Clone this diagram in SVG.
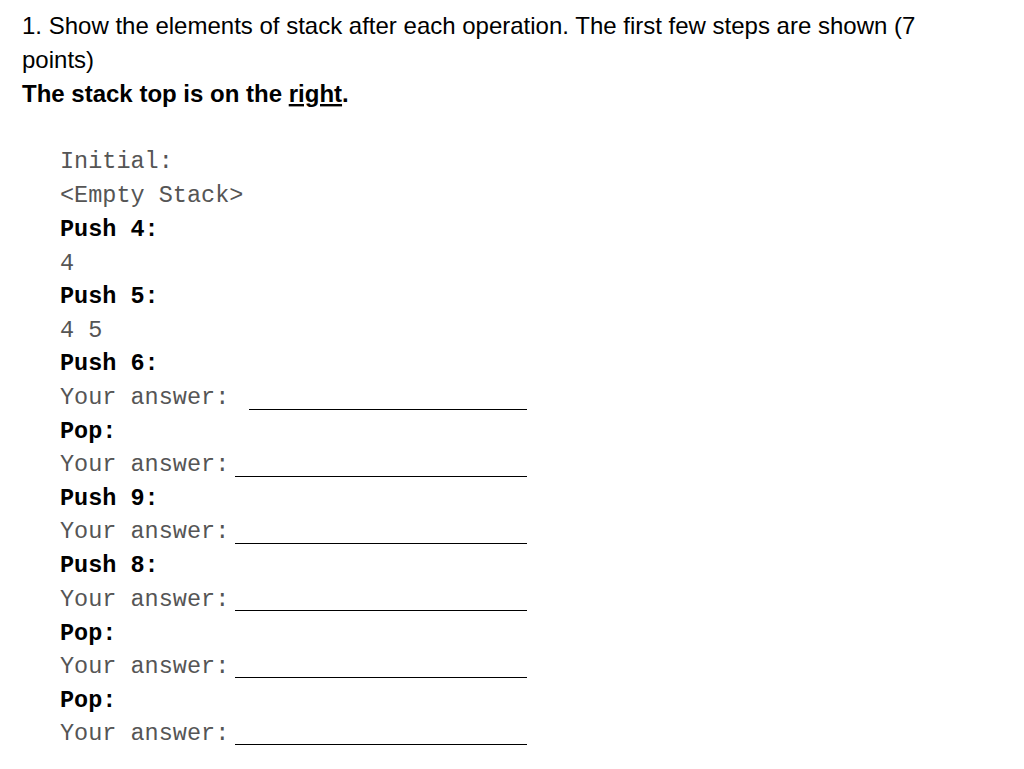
<svg xmlns="http://www.w3.org/2000/svg" width="1024" height="769" viewBox="0 0 1024 769">
<style>
.h{font-family:"Liberation Sans",Arial,sans-serif;font-size:24px;fill:#000}
.m{font-family:"Liberation Mono","Courier New",monospace;font-size:23.5px;fill:#555}
.b{font-weight:bold;fill:#000}
.l{stroke:#000;stroke-width:1}
</style>
<rect width="1024" height="769" fill="#fff"/>
<text class="h" x="22" y="34">1. Show the elements of stack after each operation. The first few steps are shown (7</text>
<text class="h" x="22" y="68">points)</text>
<text class="h" x="22" y="102" font-weight="bold">The stack top is on the <tspan text-decoration="underline">right</tspan>.</text>
<text class="m" x="60" y="168">Initial:</text>
<text class="m" x="60" y="202">&lt;Empty Stack&gt;</text>
<text class="m b" x="60" y="236">Push 4:</text>
<text class="m" x="60" y="270">4</text>
<text class="m b" x="60" y="303">Push 5:</text>
<text class="m" x="60" y="337">4 5</text>
<text class="m b" x="60" y="370">Push 6:</text>
<text class="m" x="60" y="404">Your answer:</text>
<text class="m b" x="60" y="438">Pop:</text>
<text class="m" x="60" y="471">Your answer:</text>
<text class="m b" x="60" y="505">Push 9:</text>
<text class="m" x="60" y="538">Your answer:</text>
<text class="m b" x="60" y="572">Push 8:</text>
<text class="m" x="60" y="606">Your answer:</text>
<text class="m b" x="60" y="640">Pop:</text>
<text class="m" x="60" y="673">Your answer:</text>
<text class="m b" x="60" y="707">Pop:</text>
<text class="m" x="60" y="740">Your answer:</text>
<line class="l" x1="249" y1="409.5" x2="527" y2="409.5"/>
<line class="l" x1="235" y1="476.5" x2="527" y2="476.5"/>
<line class="l" x1="235" y1="543.5" x2="527" y2="543.5"/>
<line class="l" x1="235" y1="610.5" x2="527" y2="610.5"/>
<line class="l" x1="235" y1="677.5" x2="527" y2="677.5"/>
<line class="l" x1="235" y1="744.5" x2="527" y2="744.5"/>
</svg>
